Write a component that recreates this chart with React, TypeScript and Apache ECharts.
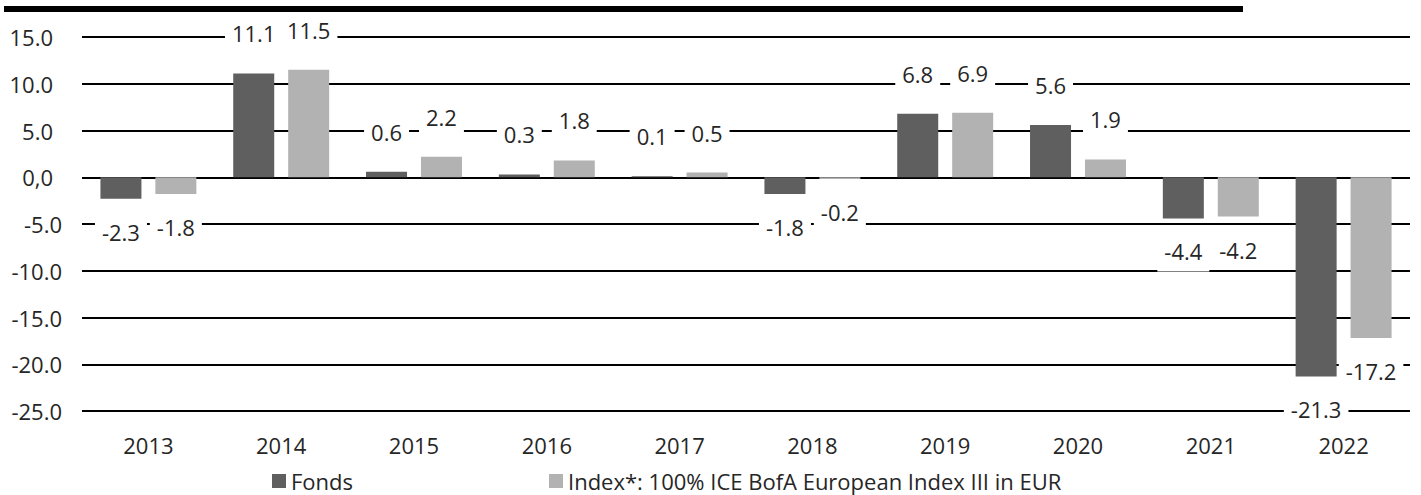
import React, { useEffect, useRef } from "react";
import * as echarts from "echarts";

const years = ["2013", "2014", "2015", "2016", "2017", "2018", "2019", "2020", "2021", "2022"];
const fondsValues = [-2.3, 11.1, 0.6, 0.3, 0.1, -1.8, 6.8, 5.6, -4.4, -21.3];
const indexValues = [-1.8, 11.5, 2.2, 1.8, 0.5, -0.2, 6.9, 1.9, -4.2, -17.2];
const seriesNames = ["Fonds", "Index*: 100% ICE BofA European Index III in EUR"];
const yMin = -25;
const yMax = 15;
const yInterval = 5;

const FONT = "'Open Sans', 'Noto Sans', sans-serif";
const TEXT = "#262626";

function toItems(values: number[]) {
  return values.map((v) => ({
    value: v,
    label: {
      position: v < 0 ? "bottom" : "top",
      distance: v < 0 ? 13 : 20,
    },
  }));
}

export default function App() {
  const ref = useRef<HTMLDivElement>(null);
  useEffect(() => {
    document.body.style.margin = "0";
    if (!ref.current) return;
    const chart = echarts.init(ref.current, null, { renderer: "svg" });
    const labelCfg = {
      show: true,
      formatter: (p: any) => Number(p.value).toFixed(1),
      fontFamily: FONT,
      fontSize: 22,
      lineHeight: 22,
      color: TEXT,
      backgroundColor: "#ffffff",
      padding: [9, 7],
    };
    chart.setOption({
      animation: false,
      graphic: [
        {
          type: "rect",
          z: 100,
          shape: { x: 4, y: 6, width: 1239, height: 6 },
          style: { fill: "#000" },
        },
      ],
      grid: { left: 82, right: 11, top: 37, bottom: 84 },
      legend: {
        left: 272,
        top: 470,
        padding: 0,
        icon: "rect",
        itemWidth: 14,
        itemHeight: 14,
        itemGap: 196,
        data: seriesNames,
        textStyle: { fontFamily: FONT, fontSize: 22, lineHeight: 22, color: TEXT },
      },
      xAxis: {
        type: "category",
        data: years,
        axisLine: { show: false, onZero: false },
        axisTick: { show: false },
        axisLabel: { fontFamily: FONT, fontSize: 22, color: TEXT, margin: 23 },
      },
      yAxis: {
        type: "value",
        min: yMin,
        max: yMax,
        interval: yInterval,
        axisLine: { show: false },
        axisTick: { show: false },
        splitLine: { lineStyle: { color: "#000", width: 2 } },
        axisLabel: {
          margin: 20,
          formatter: (v: number) =>
            v < 0 ? `{n|${v.toFixed(1)}}` : `{p|${v === 0 ? "0,0" : v.toFixed(1)}}`,
          rich: {
            n: { fontFamily: FONT, fontSize: 22, color: TEXT },
            p: { fontFamily: FONT, fontSize: 22, color: TEXT, padding: [0, 9, 0, 0] },
          },
        },
      },
      series: [
        {
          name: seriesNames[0],
          type: "bar",
          data: toItems(fondsValues),
          barWidth: 41,
          barGap: "34%",
          itemStyle: { color: "#5f5f5f" },
          label: labelCfg,
        },
        {
          name: seriesNames[1],
          type: "bar",
          data: toItems(indexValues),
          barWidth: 41,
          barGap: "34%",
          itemStyle: { color: "#b2b2b2" },
          label: labelCfg,
        },
      ],
    });
    return () => chart.dispose();
  }, []);
  return <div ref={ref} style={{ width: 1421, height: 495 }} />;
}
